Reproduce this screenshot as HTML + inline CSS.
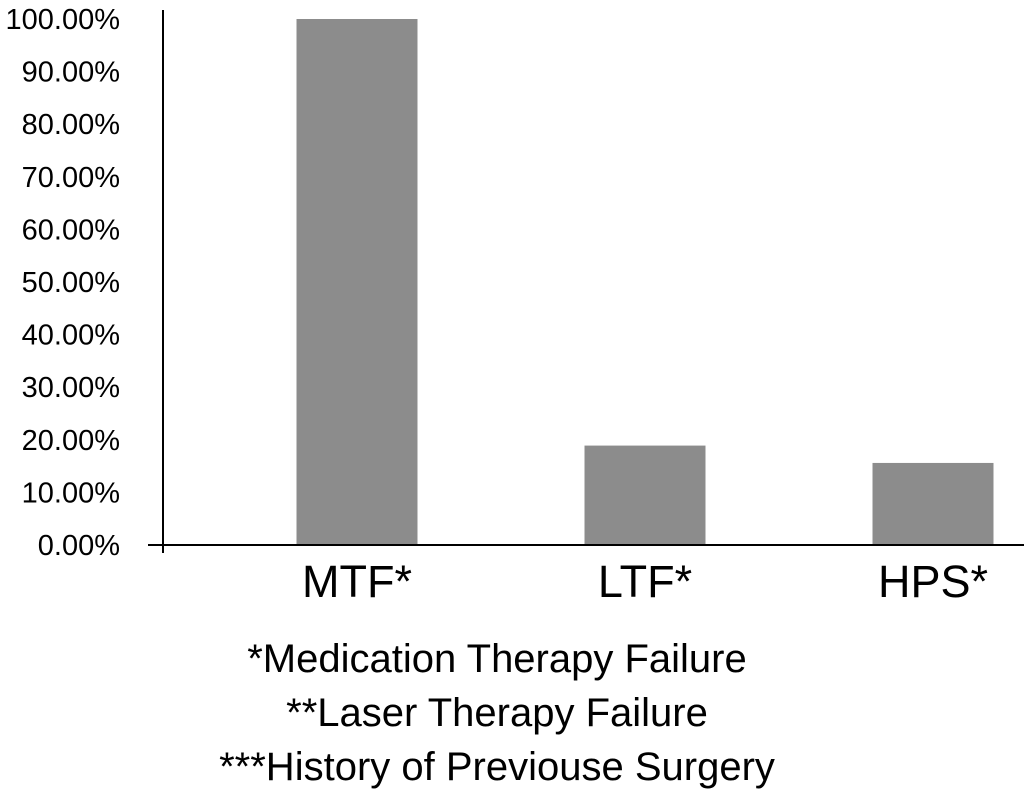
<!DOCTYPE html>
<html><head><meta charset="utf-8"><style>
html,body{margin:0;padding:0;background:#fff;}
svg{display:block;font-family:"Liberation Sans",Arial,sans-serif;}
</style></head><body>
<svg id="chart" width="1024" height="801" viewBox="0 0 1024 801"></svg>
<script>
const categories = ["MTF*", "LTF*", "HPS*"];
const values = [100, 18.9, 15.6];
const tickValues = [0, 10, 20, 30, 40, 50, 60, 70, 80, 90, 100];
const tickLabels = ["0.00%", "10.00%", "20.00%", "30.00%", "40.00%", "50.00%", "60.00%", "70.00%", "80.00%", "90.00%", "100.00%"];
const footnotes = ["*Medication Therapy Failure", "**Laser Therapy Failure", "***History of Previouse Surgery"];

const NS = "http://www.w3.org/2000/svg";
const svg = document.getElementById("chart");
function y(v){ return 545 - v * 5.26; }
function xc(i){ return 357 + i * 288; }
function mk(tag, attrs, parent){
  const e = document.createElementNS(NS, tag);
  for (const k in attrs) e.setAttribute(k, attrs[k]);
  (parent || svg).appendChild(e);
  return e;
}
values.forEach((v, i) => {
  const r = mk("rect", {x: xc(i) - 60.5, y: y(v), width: 121, height: 545 - y(v), fill: "#8c8c8c"});
  
  
});
const ya = mk("line", {x1: 163, y1: 10, x2: 163, y2: 553, stroke: "#000", "stroke-width": 2});


const xa = mk("line", {x1: 148, y1: 545, x2: 1024, y2: 545, stroke: "#000", "stroke-width": 2});


tickValues.forEach((v, i) => {
  const t = mk("text", {x: 120, y: y(v) + 10, "text-anchor": "end", "font-size": 29, fill: "#000"});
  t.textContent = tickLabels[i];
  
  
});
categories.forEach((c, i) => {
  const t = mk("text", {x: xc(i), y: 597, "text-anchor": "middle", "font-size": 45, fill: "#000"});
  t.textContent = c;
  
  
});
const fy = [672, 726, 780];
footnotes.forEach((f, i) => {
  const t = mk("text", {x: 497, y: fy[i], "text-anchor": "middle", "font-size": 40, fill: "#000"});
  t.textContent = f;
  
  
});
</script>
</body></html>
